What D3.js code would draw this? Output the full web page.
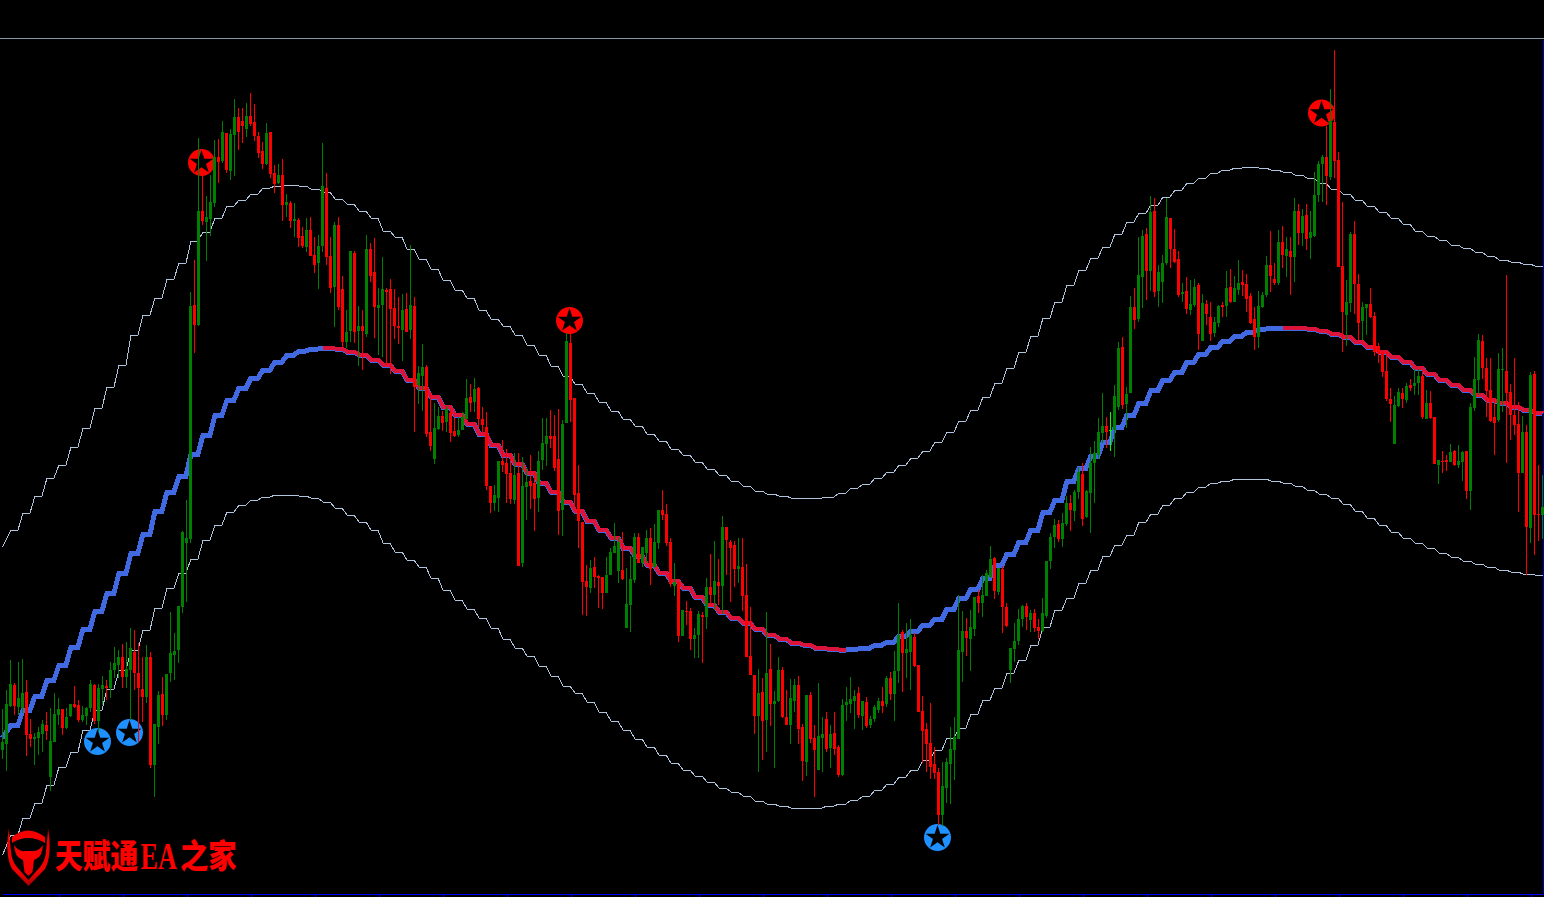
<!DOCTYPE html>
<html><head><meta charset="utf-8">
<style>html,body{margin:0;padding:0;background:#000;overflow:hidden}svg{display:block}</style>
<script src="https://cdn.jsdelivr.net/npm/d3@7/dist/d3.min.js"></script>
</head><body><svg id="c" width="1544" height="897"></svg>
<script>
// Candle data, one value per bar (price units)
const highs=[191,210,240,217,238,241,220,181,167,173,
180,188,192,207,202,191,192,196,214,200,
194,193,220,216,216,224,220,238,253,250,
256,258,272,270,257,243,255,248,176,209,
223,226,288,267,294,369,400,608,640,762,
725,704,725,760,761,779,767,771,801,792,
792,797,807,796,768,758,777,768,735,736,
741,706,699,697,682,673,682,683,663,665,
757,727,663,678,683,624,590,649,649,594,
590,665,657,662,612,643,612,621,611,603,
606,607,655,603,534,556,535,506,497,493,
489,494,492,482,483,488,521,516,522,513,
493,488,414,415,439,460,451,446,447,447,
443,432,445,428,449,482,482,490,485,491,
480,567,567,502,435,378,335,340,343,325,
323,343,352,377,363,368,332,344,367,367,
353,370,372,376,390,410,396,362,337,318,
290,299,292,272,289,288,322,346,359,341,
384,373,360,359,362,362,336,293,225,231,
222,288,256,209,243,233,210,221,221,224,
176,205,208,175,217,183,188,175,188,155,
201,213,223,210,213,199,203,184,195,202,
213,224,228,249,297,270,277,281,267,235,
204,177,197,153,132,138,142,173,183,305,
289,282,290,303,310,325,330,354,343,332,
334,297,252,277,291,295,297,290,291,281,
302,339,367,381,380,387,404,405,410,433,
437,410,453,459,482,507,483,488,515,558,
563,513,604,612,663,670,672,704,702,635,
645,702,682,671,649,617,623,620,621,617,
606,600,598,583,595,598,629,631,624,640,
630,626,607,593,609,608,644,669,637,670,
674,663,663,702,696,691,696,689,728,739,
745,774,811,850,748,698,620,668,679,626,
598,596,612,588,557,550,548,512,504,512,
512,517,521,531,531,529,510,509,483,440,
449,445,456,450,455,449,449,497,543,566,
565,542,542,502,547,552,625,516,542,498,
484,475,528,529,435,425];
const lows=[141,129,193,185,185,187,144,153,135,145,
148,160,109,158,175,165,171,183,192,178,
178,175,188,176,168,195,200,202,222,222,
212,212,180,210,158,178,197,132,103,156,
174,180,218,220,237,287,298,357,547,574,
675,639,664,693,717,737,727,720,724,750,
757,763,774,759,742,731,735,722,707,716,
679,683,672,663,653,652,648,644,627,611,
648,635,607,573,590,553,552,558,557,534,
530,563,618,562,545,543,535,526,561,556,
539,568,561,468,496,489,463,449,436,470,
469,468,458,463,463,470,481,488,488,473,
468,410,387,389,388,428,397,396,396,334,
333,380,391,369,388,430,434,452,429,365,
364,477,478,393,352,285,284,307,312,292,
291,307,325,347,317,320,272,268,317,337,
333,337,315,332,351,380,354,313,304,258,
264,275,250,242,242,237,271,295,290,295,
286,325,298,313,317,289,243,225,166,128,
140,148,174,132,198,182,175,156,188,156,
119,124,157,103,130,128,148,132,145,123,
124,179,187,171,182,170,172,172,178,187,
187,193,200,179,217,208,222,210,233,188,
137,128,121,121,75,74,97,96,120,161,
218,244,229,264,287,283,304,322,301,305,
267,273,217,238,255,273,270,268,268,261,
268,282,331,352,358,353,374,369,379,401,
374,382,367,397,441,457,452,449,443,490,
491,472,507,571,578,592,600,609,603,593,
597,635,632,637,603,598,586,585,593,550,
559,575,559,563,573,583,583,597,598,605,
604,588,576,550,552,592,603,608,615,615,
632,623,605,618,655,654,650,641,663,698,
698,695,720,722,633,548,554,588,586,560,
560,565,582,544,537,523,499,478,456,493,
492,497,509,505,505,481,481,481,436,416,
427,429,438,434,432,419,401,390,489,505,
521,483,478,445,478,488,437,460,465,388,
427,325,357,345,359,361];
const bodyHighs=[158,196,216,215,202,207,208,166,163,168,
176,175,159,186,191,191,183,196,196,195,
185,192,216,215,212,215,214,230,237,243,
243,231,252,248,227,211,243,243,176,205,
206,226,247,249,294,368,362,594,595,689,
689,683,698,743,743,768,767,766,783,783,
779,784,784,778,764,749,767,768,727,725,
725,698,697,681,680,664,670,670,645,654,
714,712,644,675,675,611,568,649,647,574,
574,651,651,628,595,611,610,611,592,574,
590,591,595,594,527,533,533,468,472,484,
484,491,487,469,470,483,502,503,511,512,
481,473,414,405,439,439,437,427,425,427,
414,418,419,417,439,457,464,464,464,441,
476,559,557,502,407,378,319,332,333,324,
323,325,348,354,358,330,296,321,363,363,
353,362,362,358,390,390,386,358,318,318,
290,289,289,265,286,285,313,313,319,318,
373,373,358,355,334,333,305,244,225,207,
208,227,231,199,230,230,183,202,215,215,
173,205,205,162,164,166,181,166,167,153,
195,198,201,204,207,199,198,181,193,199,
199,222,222,229,265,268,251,265,263,235,
189,171,157,136,128,114,138,151,163,250,
269,269,273,303,304,305,327,341,342,332,
331,293,252,259,281,294,294,287,287,273,
287,339,363,375,376,377,397,397,408,428,
426,409,437,447,468,474,474,470,504,552,
553,506,593,593,625,664,666,688,689,628,
637,683,682,651,641,608,609,596,613,615,
597,596,583,578,594,595,612,613,612,617,
618,616,604,581,594,605,635,635,621,658,
658,651,649,689,689,684,685,668,705,736,
743,743,779,778,740,634,598,666,666,616,
593,596,596,584,554,548,529,501,495,508,
507,514,515,517,524,524,497,497,483,440,
439,440,448,449,439,448,449,493,521,560,
559,532,510,483,531,531,529,508,485,476,
468,468,525,526,386,393];
const bodyLows=[150,156,194,194,193,192,165,161,161,162,
166,169,123,158,185,172,172,184,193,180,
180,184,192,179,179,211,212,212,230,235,
223,223,230,227,212,203,203,135,135,173,
185,185,227,245,250,293,357,361,575,575,
679,678,681,697,738,739,730,729,765,768,
774,771,776,764,747,736,736,726,716,717,
695,695,679,679,662,654,653,644,635,637,
654,643,612,613,593,558,558,569,568,569,
569,566,624,593,592,595,608,591,574,572,
570,568,570,513,515,524,466,454,441,471,
477,478,467,464,465,470,481,497,498,481,
475,414,397,397,402,435,426,401,400,334,
337,413,414,401,402,440,456,461,432,389,
390,477,500,405,379,318,313,312,323,322,
307,307,325,347,329,321,272,295,320,337,
337,347,331,333,357,385,357,316,314,264,
264,288,261,261,265,283,283,305,305,314,
314,360,352,331,331,304,243,225,184,184,
179,180,196,196,199,183,175,175,199,171,
139,138,161,150,130,162,151,152,151,125,
125,195,196,199,185,184,174,175,181,190,
194,196,206,206,229,247,247,248,234,188,
169,156,133,127,85,85,112,136,150,161,
248,262,261,271,297,297,304,323,309,308,
293,274,230,251,259,281,283,280,272,269,
269,284,339,363,361,361,376,390,389,408,
381,383,407,437,445,467,468,470,470,493,
495,496,507,580,581,623,629,629,608,609,
618,637,651,638,605,606,591,590,595,566,
559,586,566,567,577,593,594,598,598,610,
615,601,577,563,563,593,605,624,617,617,
645,644,643,643,667,667,661,662,664,705,
736,724,723,739,633,588,585,597,616,577,
579,592,583,548,546,528,501,496,456,494,
501,500,512,514,517,483,481,482,436,435,
438,438,438,435,435,438,409,409,492,520,
532,509,479,477,480,530,507,485,475,427,
427,373,372,385,385,385];
const directions=("uuuduudduu"+"uduuuduudd"+"uuuduuduuu"+"duuddduduu"+"duuuuuuudu"+
"duuududuud"+"dudddduddu"+"dududduddu"+"uddudduudu"+"dudduudddd"+
"ududuudduu"+"dudduuudud"+"ddduudddud"+"uudduuuddd"+"uudddddudd"+
"duuuuduuud"+"uuduudddud"+"udduududud"+"uddduddddu"+"duduudduud"+
"dudduududd"+"uuuududuuu"+"duduuduudd"+"ddddduuuuu"+"uduuduuudu"+
"dduuuududd"+"uuuuduuduu"+"duuuuuduuu"+"duuduududu"+"uuddduduud"+
"udduududuu"+"dddduuuddu"+"dudududuuu"+"ududdduudd"+"uudddddduu"+
"duduududdu"+"dduduuduuu"+"dddduudddd"+"ududdu").split("");
const opens=directions.map((d,i)=>d==="u"?bodyLows[i]:bodyHighs[i]);
const closes=directions.map((d,i)=>d==="u"?bodyHighs[i]:bodyLows[i]);

// Envelope lines: one value every third bar plus the last bar
const upperBand=[353,370,387,404,422,435,453,472,492,513,
535,565,585,602,621,637,659,668,682,694,
700,706,712,714,715,714,711,708,701,696,
689,682,669,663,651,641,631,620,610,602,
590,581,574,565,555,545,534,524,516,507,
498,489,481,474,466,459,451,445,438,431,
425,419,414,409,406,404,402,402,402,403,
407,412,416,422,428,435,442,449,458,468,
479,490,503,517,532,548,564,582,598,615,
630,642,653,666,678,687,695,703,710,717,
722,727,730,732,733,732,730,728,725,722,
717,711,706,700,694,688,682,676,669,664,
660,655,652,648,644,640,638,636,634,633];
const middleLine=[162,175,190,204,220,235,253,271,289,307,
327,347,366,389,408,424,446,465,485,500,
512,522,530,538,545,549,551,552,551,548,
545,540,535,529,520,512,503,493,485,476,
466,455,445,436,427,417,408,398,389,379,
370,362,352,344,335,327,319,312,303,295,
288,282,277,271,265,261,257,255,252,251,
250,251,252,255,258,264,269,275,281,291,
302,311,322,335,346,358,370,388,400,419,
432,444,458,473,485,497,510,520,528,538,
546,553,559,564,568,571,572,572,572,571,
569,566,563,558,553,548,543,538,532,526,
520,515,510,505,500,497,493,490,487,486];
const lowerBand=[45,65,82,97,115,133,148,170,190,211,
230,250,270,292,312,327,341,360,375,388,
395,400,403,405,405,404,402,398,392,385,
378,370,357,348,340,333,322,310,300,291,
282,272,261,252,244,234,224,214,207,198,
188,179,170,161,153,145,137,130,124,118,
112,108,104,99,96,94,92,92,92,94,
96,100,104,110,116,123,130,140,150,162,
172,186,200,212,227,240,255,273,290,302,
317,330,344,355,365,378,386,395,402,408,
413,417,419,421,421,421,419,417,414,410,
406,402,396,389,382,375,368,362,357,352,
347,343,339,336,333,330,328,326,325,324];
const fallingRanges=[[27,70],[107,129]]; // sections of the middle line drawn red

// Signal markers
const buySignals=[{bar:24,price:158.5},{bar:32,price:167.5},{bar:234,price:62.5}];
const sellSignals=[{bar:50,price:737.5},{bar:142,price:579.5},{bar:330,price:787}];

const logoParts=["天赋通","EA","之家"];
const GREEN="#008000",RED="#ff0000",LIME="#00ff00",BLUE="#4169e1",CRIMSON="#dc143c",BAND="#b0c4de";

const svg=d3.select("#c");
const x=d3.scaleLinear().domain([0,385]).range([2.5,1542.5]);
const y=d3.scaleLinear().domain([0,900]).range([900,0]);
const bars=d3.range(highs.length);
const lineBars=d3.range(0,highs.length,3).concat(highs.length-1);

// frame
svg.append("line").attr("x1",0).attr("x2",1544).attr("y1",38.5).attr("y2",38.5).attr("stroke","#8496a8");
const gx=svg.append("g").attr("transform","translate(0,894)").attr("shape-rendering","crispEdges")
 .call(d3.axisBottom(x).tickValues(d3.range(14,385,16)).tickSize(3).tickFormat("").tickSizeOuter(0));
gx.selectAll("path,line").attr("stroke","#0000ff");
const gr=svg.append("g").attr("transform","translate(1543,0)").attr("shape-rendering","crispEdges")
 .call(d3.axisRight(d3.scaleLinear().domain([0,1]).range([39,894])).tickValues([]).tickSizeOuter(0));
gr.selectAll("path").attr("stroke","#0000a0");

// lines: every value holds for a short flat run, then slants to the next one
const FLAT=3.5;
const staircase=(indices,vals,dy=0)=>{
  const pts=[];
  indices.forEach(k=>{
    const px=x(lineBars[k]),py=y(vals[k])+dy;
    if(k===0||k===lineBars.length-1) pts.push([px,py]);
    else pts.push([px-FLAT,py],[px+FLAT,py]);
  });
  return d3.line()(pts);
};
const allK=d3.range(lineBars.length);
const gl=svg.append("g").attr("fill","none").attr("shape-rendering","crispEdges").attr("stroke-linejoin","miter");
gl.append("path").attr("d",staircase(allK,upperBand)).attr("stroke",BAND).attr("stroke-width",1);
gl.append("path").attr("d",staircase(allK,lowerBand)).attr("stroke",BAND).attr("stroke-width",1);
gl.append("path").attr("d",staircase(allK,middleLine)).attr("stroke",BLUE).attr("stroke-width",5);
fallingRanges.forEach(([a,b])=>{
  gl.append("path").attr("d",staircase(d3.range(a,b+1),middleLine,-0.5))
    .attr("stroke",CRIMSON).attr("stroke-width",4);
});

// signal markers sit under the candles
const star=d3.symbol(d3.symbolStar,175)();
function markers(list,color){
  const g=svg.append("g").selectAll("g").data(list).join("g")
    .attr("transform",d=>`translate(${x(d.bar)-1},${y(d.price)})`);
  g.append("circle").attr("r",13.5).attr("fill",color);
  g.append("path").attr("d",star).attr("fill","#000");
}
markers(buySignals,"#1e90ff");
markers(sellSignals,RED);

// candles
const colorOf=i=>opens[i]===closes[i]?LIME:(closes[i]>opens[i]?GREEN:RED);
const gc=svg.append("g").attr("shape-rendering","crispEdges");
gc.selectAll("rect.w").data(bars).join("rect").attr("class","w")
  .attr("x",i=>x(i)-0.5).attr("width",1)
  .attr("y",i=>y(highs[i])).attr("height",i=>y(lows[i])-y(highs[i]))
  .attr("fill",colorOf);
gc.selectAll("rect.b").data(bars).join("rect").attr("class","b")
  .attr("x",i=>x(i)-1.5).attr("width",3)
  .attr("y",i=>y(Math.max(opens[i],closes[i])))
  .attr("height",i=>Math.max(1,Math.abs(opens[i]-closes[i])))
  .attr("fill",colorOf);

// logo
const defs=svg.append("defs");
const lg=defs.append("radialGradient").attr("id","lg").attr("gradientUnits","userSpaceOnUse")
  .attr("cx",28).attr("cy",850).attr("r",34);
lg.append("stop").attr("offset","0").attr("stop-color","#ff0000");
lg.append("stop").attr("offset","0.7").attr("stop-color","#f00000");
lg.append("stop").attr("offset","1").attr("stop-color","#b00000");
const lgo=svg.append("g").attr("fill","url(#lg)");
lgo.append("path").attr("d","M9,828 C6,845 7,860 12,869 L28.5,886 L45,869 C50,860 51,845 48,828 C47.5,838 46.5,846 46,851 C45.5,859 43,863 40,867 L28.5,880 L17,867 C14,863 11.5,859 11,851 C10.5,846 9.5,838 9,828 Z");
lgo.append("path").attr("d","M12,837 Q28,824 45,837 L45,843 Q28,833 12,843 Z");
lgo.append("path").attr("d","M14,845 Q19,852 25,851 L32,851 Q38,852 43,845 Q42,857 36,859 L34,860 L32.5,872 L28.5,876 L24.5,872 L23,860 L21,859 Q15,857 14,845 Z");
const logoSlots=[{x:55,sx:0.84,fs:33,yy:868},{x:140.5,sx:0.69,fs:38,yy:869},{x:180,sx:0.86,fs:33,yy:868}];
svg.append("g").selectAll("text").data(logoParts).join("text")
  .attr("transform",(d,i)=>`translate(${logoSlots[i].x},${logoSlots[i].yy}) scale(${logoSlots[i].sx},1)`)
  .attr("fill","#ff0000")
  .attr("font-family","'Liberation Serif','Noto Sans CJK SC',serif").attr("font-weight",900)
  .attr("font-size",(d,i)=>logoSlots[i].fs).text(d=>d);
</script></body></html>
